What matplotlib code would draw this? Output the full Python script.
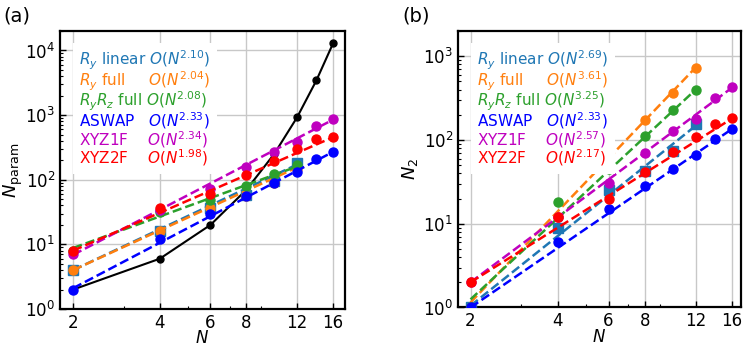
import matplotlib
matplotlib.use("Agg")
import matplotlib.pyplot as plt
from matplotlib.ticker import FixedLocator, FixedFormatter, NullFormatter, LogLocator

# qubit numbers
N_all = [2, 4, 6, 8, 10, 12, 14, 16]
N_12 = [2, 4, 6, 8, 10, 12]

# ---- panel (a): number of parameters ----
a_exact = [2, 6, 20, 70, 252, 924, 3432, 12870]
a_ry_linear = [4, 16, 36, 58, 94, 182]
a_ry_full = [4, 16, 36, 56, 90, 144]
a_ryrz_full = [8, 32, 48, 80, 122, 172]
a_aswap = [2, 12, 30, 56, 90, 132, 210, 272]
a_xyz1f = [7, 34, 73, 160, 272, 385, 680, 880]
a_xyz2f = [8, 37, 60, 118, 194, 294, 420, 465]

# fit lines (end points)
a_fit_ends = {
    "ry_linear": ([2, 12], [4.0, 172]),
    "ry_full": ([2, 12], [4.0, 155]),
    "ryrz_full": ([2, 12], [8.8, 160]),
    "aswap": ([2, 16], [2.1, 270]),
    "xyz1f": ([2, 16], [6.9, 850]),
    "xyz2f": ([2, 16], [8.0, 455]),
}
a_labels = [r"$R_y$ linear $O(N^{2.10})$",
            r"$R_y$ full     $O(N^{2.04})$",
            r"$R_yR_z$ full $O(N^{2.08})$",
            r"ASWAP   $O(N^{2.33})$",
            r"XYZ1F    $O(N^{2.34})$",
            r"XYZ2F    $O(N^{1.98})$"]

# ---- panel (b): two-qubit gates ----
b_ry_linear = [1, 9, 25, 43, 73, 157]
b_ry_full = [1, 12, 75, 171, 365, 727]
b_ryrz_full = [1, 18, 45, 112, 226, 400]
b_aswap = [1, 6, 15, 28, 45, 66, 104, 135]
b_xyz1f = [2, 12, 31, 70, 127, 178, 315, 426]
b_xyz2f = [2, 12, 20, 41, 71, 110, 157, 183]

b_fit_ends = {
    "ry_linear": ([2, 12], [1.05, 148]),
    "ry_full": ([2, 12], [1.15, 735]),
    "ryrz_full": ([2, 12], [1.25, 400]),
    "aswap": ([2, 16], [1.0, 135]),
    "xyz1f": ([2, 16], [2.0, 420]),
    "xyz2f": ([2, 16], [2.0, 180]),
}
b_labels = [r"$R_y$ linear $O(N^{2.69})$",
            r"$R_y$ full     $O(N^{3.61})$",
            r"$R_yR_z$ full $O(N^{3.25})$",
            r"ASWAP   $O(N^{2.33})$",
            r"XYZ1F    $O(N^{2.57})$",
            r"XYZ2F    $O(N^{2.17})$"]

keys = ["ry_linear", "ry_full", "ryrz_full", "aswap", "xyz1f", "xyz2f"]
colors = ["tab:blue", "tab:orange", "tab:green", "b", "m", "r"]
markers = ["s", "o", "o", "o", "o", "o"]


def style_axis(ax, xlim, ylim):
    ax.set_xscale("log")
    ax.set_yscale("log")
    ax.set_xlim(*xlim)
    ax.set_ylim(*ylim)
    ax.xaxis.set_major_locator(FixedLocator([2, 4, 6, 8, 12, 16]))
    ax.xaxis.set_major_formatter(FixedFormatter(["2", "4", "6", "8", "12", "16"]))
    ax.xaxis.set_minor_formatter(NullFormatter())
    ax.yaxis.set_major_locator(LogLocator(base=10, numticks=10))
    ax.tick_params(which="both", direction="in", labelsize=12)
    ax.tick_params(which="major", length=4, width=1)
    ax.tick_params(which="minor", length=2, width=0.8)
    ax.grid(True, which="major", color="#c8c8c8", lw=1)
    ax.set_axisbelow(True)
    for s in ax.spines.values():
        s.set_linewidth(1.6)
    ax.set_xlabel(r"$N$", fontsize=12, labelpad=-2)


def draw_panel(ax, series, n_lists, fits, labels):
    handles = []
    for k, y, nn, c, m in zip(keys, series, n_lists, colors, markers):
        h, = ax.plot(nn, y, ls="none", marker=m, ms=6.5, color=c, zorder=3)
        fx, fy = fits[k]
        ax.plot(fx, fy, ls="--", lw=1.8, color=c, zorder=3)
        handles.append(h)
    leg = ax.legend(handles, labels, loc="upper left", bbox_to_anchor=(0.03, 0.975),
                    fontsize=11, handlelength=0, handletextpad=0, labelspacing=-0.17,
                    frameon=True, fancybox=False, framealpha=1, edgecolor="none",
                    borderpad=0.4, borderaxespad=0.3)
    for h in leg.legend_handles:
        h.set_visible(False)
    for t, c in zip(leg.get_texts(), colors):
        t.set_color(c)


fig = plt.figure(figsize=(7.47, 3.46), dpi=100)
ax1 = fig.add_axes([0.0803, 0.1069, 0.3815, 0.8035])
ax2 = fig.add_axes([0.6131, 0.1113, 0.3788, 0.7990])

# panel (a)
ax1.plot(N_all, a_exact, "k-", marker="o", ms=5, lw=1.5, zorder=3)
draw_panel(ax1,
           [a_ry_linear, a_ry_full, a_ryrz_full, a_aswap, a_xyz1f, a_xyz2f],
           [N_12, N_12, N_12, N_all, N_all, N_all],
           a_fit_ends, a_labels)
style_axis(ax1, (1.80, 17.6), (1, 2e4))
ax1.set_ylabel(r"$N_{\rm param}$", fontsize=13, labelpad=0)

# panel (b)
draw_panel(ax2,
           [b_ry_linear, b_ry_full, b_ryrz_full, b_aswap, b_xyz1f, b_xyz2f],
           [N_12, N_12, N_12, N_all, N_all, N_all],
           b_fit_ends, b_labels)
style_axis(ax2, (1.81, 17.2), (1, 2e3))
ax2.set_ylabel(r"$N_2$", fontsize=13, labelpad=2)

fig.text(0.005, 0.98, "(a)", fontsize=14, va="top", ha="left")
fig.text(0.539, 0.98, "(b)", fontsize=14, va="top", ha="left")

fig.savefig("out.png", dpi=100)
